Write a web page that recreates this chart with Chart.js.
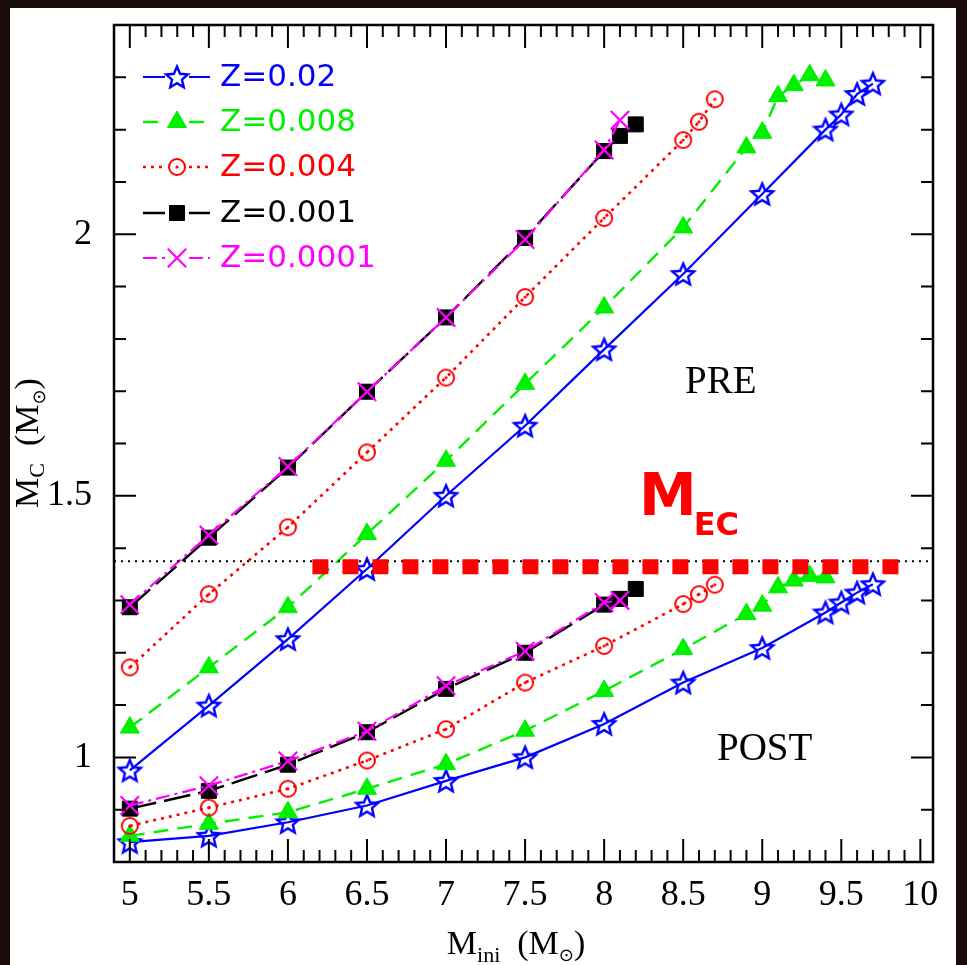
<!DOCTYPE html>
<html>
<head>
<meta charset="utf-8">
<script src="https://cdn.jsdelivr.net/npm/chart.js@4.4.1/dist/chart.umd.min.js"></script>
<style>
html,body{margin:0;padding:0;background:#1a0b0b;}
#wrap{position:relative;width:967px;height:965px;}
canvas{display:block;}
</style>
</head>
<body>
<div id="wrap"><canvas id="c" width="967" height="965"></canvas></div>
<script>
// ---------- data ----------
const seriesNames  = ['Z=0.02', 'Z=0.008', 'Z=0.004', 'Z=0.001', 'Z=0.0001'];
const seriesColors = ['#0000ff', '#00f000', '#ff0000', '#000000', '#ff00ff'];

const massZ02   = [5, 5.5, 6, 6.5, 7, 7.5, 8, 8.5, 9, 9.4, 9.5, 9.6, 9.7];
const preZ02    = [0.975, 1.099, 1.226, 1.360, 1.500, 1.634, 1.780, 1.924, 2.077, 2.200, 2.229, 2.268, 2.288];
const postZ02   = [0.838, 0.850, 0.876, 0.908, 0.955, 1.000, 1.064, 1.143, 1.209, 1.277, 1.296, 1.315, 1.331];

const massZ008  = [5, 5.5, 6, 6.5, 7, 7.5, 8, 8.5, 8.9, 9.0, 9.1, 9.2, 9.3, 9.4];
const preZ008   = [1.057, 1.172, 1.287, 1.427, 1.567, 1.714, 1.860, 2.013, 2.166, 2.194, 2.264, 2.285, 2.304, 2.294];
const postZ008  = [0.850, 0.873, 0.895, 0.940, 0.987, 1.051, 1.127, 1.207, 1.274, 1.290, 1.325, 1.338, 1.347, 1.344];

const massZ004  = [5, 5.5, 6, 6.5, 7, 7.5, 8, 8.5, 8.6, 8.7];
const preZ004   = [1.172, 1.312, 1.440, 1.583, 1.726, 1.880, 2.031, 2.180, 2.215, 2.258];
const postZ004  = [0.869, 0.904, 0.940, 0.994, 1.054, 1.143, 1.213, 1.293, 1.312, 1.330];

const massZ001  = [5, 5.5, 6, 6.5, 7, 7.5, 8, 8.1, 8.2];
const preZ001   = [1.287, 1.420, 1.554, 1.699, 1.841, 1.993, 2.159, 2.188, 2.210];
const postZ001  = [0.902, 0.936, 0.986, 1.048, 1.131, 1.200, 1.292, 1.303, 1.322];

const massZ0001 = [5, 5.5, 6, 6.5, 7, 7.5, 8, 8.1];
const preZ0001  = [1.292, 1.425, 1.556, 1.699, 1.841, 1.990, 2.161, 2.218];
const postZ0001 = [0.908, 0.946, 0.993, 1.050, 1.137, 1.203, 1.296, 1.300];

const mecValue   = 1.3645;          // thick red square-dotted M_EC line
const mecRange   = [6.155, 9.885];
const refValue   = 1.375;           // thin black dotted line
const refRange   = [4.9, 10.08];

const xTickValues = [5, 5.5, 6, 6.5, 7, 7.5, 8, 8.5, 9, 9.5, 10];
const xTickLabels = ['5', '5.5', '6', '6.5', '7', '7.5', '8', '8.5', '9', '9.5', '10'];
const yTickValues = [1, 1.5, 2];
const yTickLabels = ['1', '1.5', '2'];

// ---------- marker images ----------
function makeStar(color) {
  const s = 28, c = document.createElement('canvas');
  c.width = s; c.height = s;
  const g = c.getContext('2d');
  const R = 11.5, r = 5.2, cx = s / 2, cy = s / 2 + 1;
  g.beginPath();
  for (let i = 0; i < 10; i++) {
    const a = -Math.PI / 2 + i * Math.PI / 5;
    const rr = i % 2 ? r : R;
    const px = cx + rr * Math.cos(a), py = cy + rr * Math.sin(a);
    if (i === 0) g.moveTo(px, py); else g.lineTo(px, py);
  }
  g.closePath();
  g.strokeStyle = color; g.lineWidth = 2.4; g.lineJoin = 'miter';
  g.stroke();
  return c;
}
function makeDotCircle(color) {
  const s = 22, c = document.createElement('canvas');
  c.width = s; c.height = s;
  const g = c.getContext('2d');
  g.strokeStyle = color; g.fillStyle = color; g.lineWidth = 2;
  g.beginPath(); g.arc(s / 2, s / 2, 8, 0, Math.PI * 2); g.stroke();
  g.beginPath(); g.arc(s / 2, s / 2, 1.6, 0, Math.PI * 2); g.fill();
  return c;
}
const starImg = makeStar(seriesColors[0]);
const circImg = makeDotCircle(seriesColors[2]);

const styles = [
  {pointStyle: starImg,    radius: 12, dash: [],            width: 2.2, pbw: 0,   order: 5},
  {pointStyle: 'triangle', radius: 11, dash: [15, 9],       width: 2.4, pbw: 1,   order: 4},
  {pointStyle: circImg,    radius: 10, dash: [3, 5],        width: 2.6, pbw: 0,   order: 3},
  {pointStyle: 'rect',     radius: 10.6, dash: [27, 8],     width: 2.4, pbw: 1,   order: 2},
  {pointStyle: 'crossRot', radius: 13, dash: [14, 5, 3, 5], width: 2.2, pbw: 2.2, order: 1}
];

function pts(xs, ys) { return xs.map((x, i) => ({x: x, y: ys[i]})); }
function ds(idx, label, xs, ys) {
  const st = styles[idx], col = seriesColors[idx];
  return {
    label: label, data: pts(xs, ys),
    borderColor: col, backgroundColor: col,
    pointBackgroundColor: col, pointBorderColor: col,
    pointStyle: st.pointStyle, pointRadius: st.radius, pointHoverRadius: st.radius,
    pointBorderWidth: st.pbw, borderWidth: st.width, borderDash: st.dash,
    borderCapStyle: 'butt', tension: 0, fill: false, order: st.order
  };
}

const masses = [massZ02, massZ008, massZ004, massZ001, massZ0001];
const pres   = [preZ02, preZ008, preZ004, preZ001, preZ0001];
const posts  = [postZ02, postZ008, postZ004, postZ001, postZ0001];

const datasets = [];
for (let i = 0; i < 5; i++) {
  datasets.push(ds(i, seriesNames[i] + ' pre',  masses[i], pres[i]));
  datasets.push(ds(i, seriesNames[i] + ' post', masses[i], posts[i]));
}
datasets.push({
  label: 'ref', data: pts(refRange, [refValue, refValue]),
  borderColor: '#000', borderWidth: 2, borderDash: [2, 5], pointRadius: 0,
  borderCapStyle: 'butt', fill: false, order: 0.5
});
datasets.push({
  label: 'M_EC', data: pts(mecRange, [mecValue, mecValue]),
  borderColor: '#ff0000', borderWidth: 15, borderDash: [16, 14], pointRadius: 0,
  borderCapStyle: 'butt', fill: false, order: 0
});

// ---------- plugins ----------
const bgPlugin = {
  id: 'bg',
  beforeDraw(chart) {
    const ctx = chart.ctx;
    ctx.save();
    ctx.fillStyle = '#1a0b0b';
    ctx.fillRect(0, 0, chart.width, chart.height);
    ctx.fillStyle = '#ffffff';
    ctx.fillRect(10, 8, 946, 957);
    ctx.restore();
  }
};

const framePlugin = {
  id: 'frame',
  afterDatasetsDraw(chart) {
    const {ctx, chartArea: a, scales: {x, y}} = chart;
    ctx.save();
    ctx.strokeStyle = '#000';
    ctx.lineWidth = 2.5;
    ctx.strokeRect(a.left, a.top, a.right - a.left, a.bottom - a.top);
    ctx.lineWidth = 2;
    ctx.beginPath();
    for (let i = 50; i <= 100; i++) {
      const px = x.getPixelForValue(i / 10);
      const L = i % 5 === 0 ? 23 : 12;
      ctx.moveTo(px, a.bottom); ctx.lineTo(px, a.bottom - L);
      ctx.moveTo(px, a.top);    ctx.lineTo(px, a.top + L);
    }
    for (let i = 9; i <= 23; i++) {
      const py = y.getPixelForValue(i / 10);
      const L = i % 5 === 0 ? 22 : 12;
      ctx.moveTo(a.left, py);  ctx.lineTo(a.left + L, py);
      ctx.moveTo(a.right, py); ctx.lineTo(a.right - L, py);
    }
    ctx.stroke();
    ctx.restore();
  }
};

function drawTitle(ctx, parts, cx, baseline) {
  let total = 0;
  parts.forEach(p => { ctx.font = p[1]; total += ctx.measureText(p[0]).width; });
  let x = cx - total / 2;
  ctx.textAlign = 'left'; ctx.textBaseline = 'alphabetic';
  parts.forEach(p => {
    ctx.font = p[1];
    ctx.fillText(p[0], x, baseline + p[2]);
    x += ctx.measureText(p[0]).width;
  });
}

const textPlugin = {
  id: 'texts',
  afterDraw(chart) {
    const ctx = chart.ctx;
    ctx.save();
    // legend
    const rows = [77, 122, 167, 213, 258];
    for (let i = 0; i < 5; i++) {
      const st = styles[i], col = seriesColors[i], yy = rows[i];
      ctx.strokeStyle = col; ctx.fillStyle = col;
      ctx.lineWidth = st.width; ctx.lineCap = 'butt';
      ctx.setLineDash(st.dash);
      ctx.beginPath(); ctx.moveTo(143, yy); ctx.lineTo(177 - 12, yy);
      ctx.moveTo(177 + 12, yy); ctx.lineTo(210, yy); ctx.stroke();
      ctx.setLineDash([]);
      ctx.lineWidth = st.pbw || 1;
      Chart.helpers.drawPoint(ctx, {pointStyle: st.pointStyle, radius: st.radius, rotation: 0, borderWidth: st.pbw}, 177, yy);
      ctx.font = '31px "DejaVu Sans"';
      ctx.textAlign = 'left'; ctx.textBaseline = 'middle';
      ctx.fillStyle = col;
      ctx.fillText(seriesNames[i], 220, yy + 1);
    }
    // region labels
    ctx.fillStyle = '#000';
    ctx.textAlign = 'left'; ctx.textBaseline = 'alphabetic';
    ctx.font = '39px "Liberation Serif"';
    ctx.fillText('PRE', 685, 393);
    ctx.fillText('POST', 717, 760);
    // M_EC label
    ctx.fillStyle = '#ff0000';
    ctx.font = 'bold 58px "DejaVu Sans"';
    ctx.fillText('M', 639, 515);
    const mw = ctx.measureText('M').width;
    ctx.font = 'bold 32px "DejaVu Sans"';
    ctx.fillText('EC', 639 + mw - 3, 535);
    // axis titles
    ctx.fillStyle = '#000';
    const big = '34px "Liberation Serif"', sub = '22px "Liberation Serif"', sym = '18px "DejaVu Sans"';
    drawTitle(ctx, [['M', big, 0], ['ini', sub, 8], ['  (M', big, 0], ['\u2299', sym, 7], [')', big, 0]], 516, 954);
    ctx.translate(38, 443);
    ctx.rotate(-Math.PI / 2);
    drawTitle(ctx, [['M', big, 0], ['C', sub, 6], ['  (M', big, 0], ['\u2299', sym, 7], [')', big, 0]], 0, 0);
    ctx.restore();
  }
};

Chart.defaults.font.family = '"Liberation Serif"';
Chart.defaults.color = '#000';

new Chart(document.getElementById('c'), {
  type: 'line',
  data: {datasets: datasets},
  options: {
    responsive: false, animation: false, devicePixelRatio: 1,
    layout: {padding: {left: 10, right: 34, top: 25, bottom: 0}},
    plugins: {legend: {display: false}, tooltip: {enabled: false}},
    scales: {
      x: {
        type: 'linear', min: 4.9, max: 10.08,
        afterBuildTicks: (s) => { s.ticks = xTickValues.map(v => ({value: v})); },
        afterFit: (s) => { s.height = 103; s.paddingLeft = 0; s.paddingRight = 0; },
        grid: {display: false, drawTicks: false, tickLength: 0},
        border: {display: false},
        ticks: {
          autoSkip: false, maxRotation: 0, padding: 12,
          font: {size: 36, family: '"Liberation Serif"'}, color: '#000',
          callback: (v, i) => xTickLabels[i]
        }
      },
      y: {
        type: 'linear', min: 0.8, max: 2.4,
        afterBuildTicks: (s) => { s.ticks = yTickValues.map(v => ({value: v})); },
        afterFit: (s) => { s.width = 104; s.paddingTop = 0; s.paddingBottom = 0; },
        grid: {display: false, drawTicks: false, tickLength: 0},
        border: {display: false},
        ticks: {
          autoSkip: false, padding: 22,
          font: {size: 36, family: '"Liberation Serif"'}, color: '#000',
          callback: (v, i) => yTickLabels[i]
        }
      }
    }
  },
  plugins: [bgPlugin, framePlugin, textPlugin]
});
</script>
</body>
</html>
